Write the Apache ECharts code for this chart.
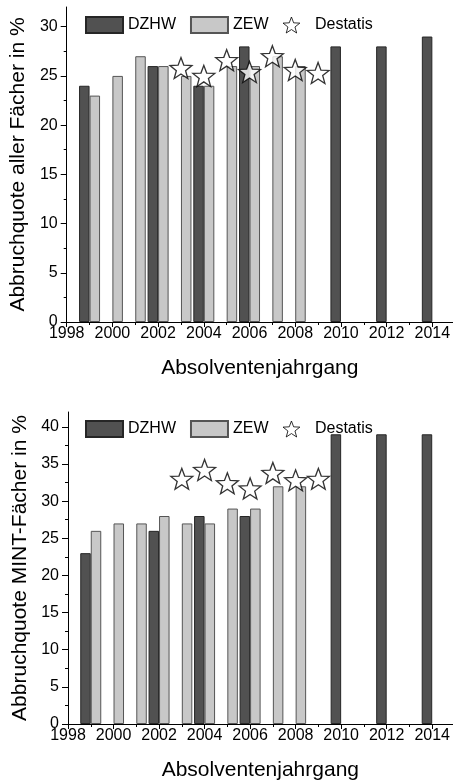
<!DOCTYPE html>
<html>
<head>
<meta charset="utf-8">
<script src="https://cdn.jsdelivr.net/npm/echarts@6/dist/echarts.min.js"></script>
<style>
  html, body { margin: 0; padding: 0; background: #fff; }
  #chart { width: 453px; height: 782px; }
</style>
</head>
<body>
<div id="chart"></div>
<script>
// Abbruchquote aller Fächer
const dzhwYears = [1999, 2002, 2004, 2006, 2010, 2012, 2014];
const dzhwAll = [24, 26, 24, 28, 28, 28, 29];
const zewYears = [1999, 2000, 2001, 2002, 2003, 2004, 2005, 2006, 2007, 2008];
const zewAll = [23, 25, 27, 26, 25, 24, 26, 26, 27, 26];
const destatisYears = [2003, 2004, 2005, 2006, 2007, 2008, 2009];
const destatisAll = [25.8, 25.0, 26.6, 25.4, 27.0, 25.6, 25.3];

// Abbruchquote MINT-Fächer
const dzhwMint = [23, 26, 28, 28, 39, 39, 39];
const zewMint = [26, 27, 27, 28, 27, 27, 29, 29, 32, 32];
const destatisMint = [33.0, 34.2, 32.4, 31.7, 33.8, 32.8, 33.0];

// tick labels
const xTickYears = [1998, 2000, 2002, 2004, 2006, 2008, 2010, 2012, 2014];
const xMinorYears = [1999, 2001, 2003, 2005, 2007, 2009, 2011, 2013];
const yTicksAll = [0, 5, 10, 15, 20, 25, 30];
const yMinorAll = [2.5, 7.5, 12.5, 17.5, 22.5, 27.5];
const yTicksMint = [0, 5, 10, 15, 20, 25, 30, 35, 40];
const yMinorMint = [2.5, 7.5, 12.5, 17.5, 22.5, 27.5, 32.5, 37.5];

const font = 'Liberation Sans, Arial, sans-serif';

// outline star, built as an svg path
function starPath() {
    const pts = [];
    for (let i = 0; i < 10; i++) {
        const r = i % 2 === 0 ? 50 : 21;
        const a = (-90 + i * 36) * Math.PI / 180;
        pts.push((50 + r * Math.cos(a)).toFixed(2) + ' ' + (50 + r * Math.sin(a)).toFixed(2));
    }
    return 'path://M' + pts.join(' L') + ' Z';
}
const star = starPath();

const pairs = (xs, ys) => xs.map((x, i) => [x, ys[i]]);

const myChart = echarts.init(document.getElementById('chart'));

function xAxes(gridIndex, name) {
    return [
        {
            type: 'value', gridIndex, position: 'bottom', min: 1998, max: 2014.9,
            name, nameLocation: 'middle', nameGap: 36,
            nameTextStyle: { fontFamily: font, fontSize: 21, color: '#000' },
            splitLine: { show: false },
            axisLine: { show: true, onZero: false, lineStyle: { color: '#000', width: 1 } },
            axisTick: { show: true, length: 5, customValues: xTickYears, lineStyle: { color: '#000' } },
            axisLabel: {
                customValues: xTickYears, margin: 4, fontFamily: font, fontSize: 16, color: '#000',
                formatter: (v) => String(v)
            }
        },
        {
            type: 'value', gridIndex, position: 'bottom', min: 1998, max: 2014.9,
            splitLine: { show: false },
            axisLine: { show: false, onZero: false },
            axisTick: { show: true, length: 3, customValues: xMinorYears, lineStyle: { color: '#000' } },
            axisLabel: { show: false }
        }
    ];
}

function yAxes(gridIndex, name, max, ticks, minor) {
    return [
        {
            type: 'value', gridIndex, position: 'left', min: 0, max,
            name, nameLocation: 'middle', nameGap: 35,
            nameTextStyle: { fontFamily: font, fontSize: 21, color: '#000' },
            splitLine: { show: false },
            axisLine: { show: true, onZero: false, lineStyle: { color: '#000', width: 1 } },
            axisTick: { show: true, length: 6, customValues: ticks, lineStyle: { color: '#000' } },
            axisLabel: { customValues: ticks, margin: 9, fontFamily: font, fontSize: 16, color: '#000' }
        },
        {
            type: 'value', gridIndex, position: 'left', min: 0, max,
            splitLine: { show: false },
            axisLine: { show: false, onZero: false },
            axisTick: { show: true, length: 3, customValues: minor, lineStyle: { color: '#000' } },
            axisLabel: { show: false }
        }
    ];
}

const dzhwStyle = { color: '#515151', borderColor: '#262626', borderWidth: 1 };
const zewStyle = { color: '#c8c8c8', borderColor: '#555', borderWidth: 1 };
const starStyle = { color: '#fff', borderColor: '#000', borderWidth: 1.3 };

function seriesFor(axisIndex, dzhw, zew, destatis) {
    return [
        {
            name: 'DZHW', type: 'bar', xAxisIndex: axisIndex, yAxisIndex: axisIndex,
            barWidth: 10.5, barGap: '0%', itemStyle: dzhwStyle,
            data: pairs(dzhwYears, dzhw)
        },
        {
            name: 'ZEW', type: 'bar', xAxisIndex: axisIndex, yAxisIndex: axisIndex,
            barWidth: 10.5, barGap: '0%', itemStyle: zewStyle,
            data: pairs(zewYears, zew)
        },
        {
            name: 'Destatis', type: 'scatter', xAxisIndex: axisIndex, yAxisIndex: axisIndex,
            symbol: star, symbolSize: [22, 21], itemStyle: starStyle, z: 5,
            data: pairs(destatisYears, destatis)
        }
    ];
}

function legendAt(top) {
    return {
        left: 80, top, orient: 'horizontal',
        itemWidth: 37, itemHeight: 16, itemGap: 14,
        textStyle: { fontFamily: font, fontSize: 16, color: '#000' },
        data: [
            { name: 'DZHW', icon: 'rect' },
            { name: 'ZEW', icon: 'rect' },
            { name: 'Destatis', icon: star, itemStyle: { color: '#fff', borderColor: '#000', borderWidth: 1 } }
        ]
    };
}

const option = {
    animation: false,
    backgroundColor: '#fff',
    legend: [legendAt(11), legendAt(415)],
    grid: [
        { left: 64, right: 0, top: 7, bottom: 460 },
        { left: 68, right: 0, top: 412, bottom: 58 }
    ],
    xAxis: [...xAxes(0, 'Absolventenjahrgang'), ...xAxes(1, 'Absolventenjahrgang')],
    yAxis: [
        ...yAxes(0, 'Abbruchquote aller Fächer in %', 32, yTicksAll, yMinorAll),
        ...yAxes(1, 'Abbruchquote MINT-Fächer in %', 42, yTicksMint, yMinorMint)
    ],
    series: [
        ...seriesFor(0, dzhwAll, zewAll, destatisAll),
        ...seriesFor(2, dzhwMint, zewMint, destatisMint)
    ]
};

myChart.setOption(option);
</script>
</body>
</html>
